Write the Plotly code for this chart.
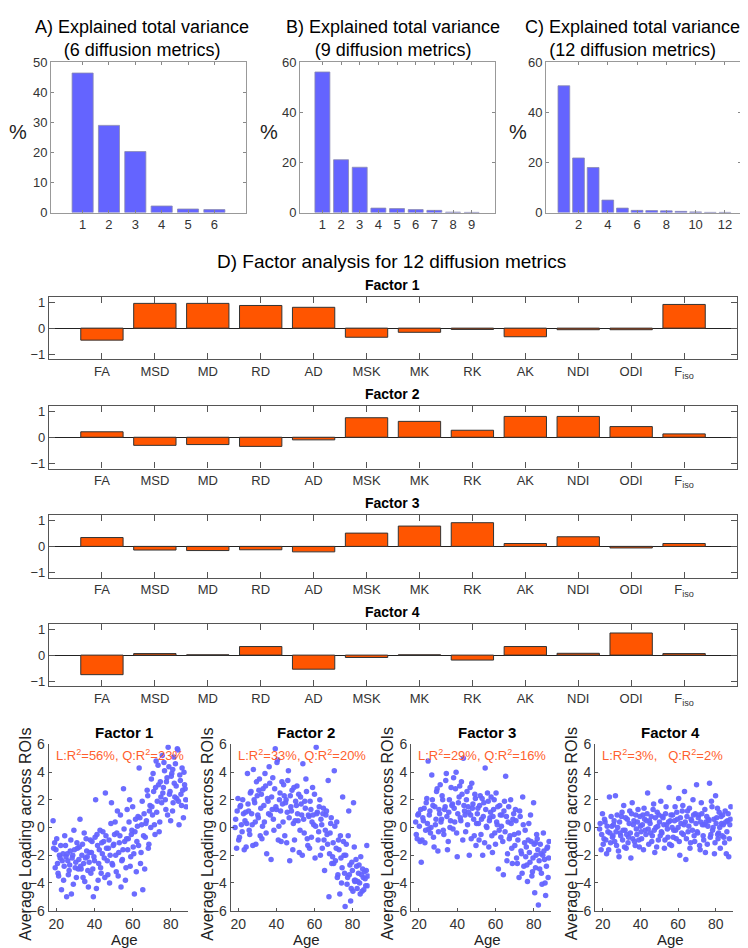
import plotly.graph_objects as go

# A-C: explained total variance (%)
var6 = [46.4, 29.0, 20.3, 2.2, 1.2, 1.0]
var9 = [56.1, 21.1, 18.1, 1.8, 1.6, 1.2, 0.9, 0.2, 0.1]
var12 = [50.6, 21.8, 18.0, 5.0, 1.8, 0.9, 0.8, 0.7, 0.5, 0.3, 0.1, 0.1]

# D: factor loadings for 12 diffusion metrics
metrics = ["FA", "MSD", "MD", "RD", "AD", "MSK", "MK", "RK", "AK", "NDI", "ODI", "F<sub>iso</sub>"]
factor1 = [-0.46, 0.95, 0.95, 0.87, 0.80, -0.35, -0.16, -0.05, -0.33, -0.06, -0.06, 0.91]
factor2 = [0.21, -0.31, -0.28, -0.35, -0.10, 0.75, 0.61, 0.27, 0.80, 0.80, 0.41, 0.13]
factor3 = [0.34, -0.14, -0.16, -0.13, -0.21, 0.51, 0.78, 0.91, 0.11, 0.37, -0.06, 0.11]
factor4 = [-0.75, 0.06, 0.01, 0.33, -0.54, -0.09, 0.01, -0.19, 0.33, 0.07, 0.85, 0.06]

# bottom row: average factor loading across ROIs vs age (read approximately)
ages = [
    18.3, 19.1, 19.8, 20.6, 21.2, 22.0, 22.7, 23.5, 24.1, 24.8,
    25.4, 26.0, 26.7, 27.3, 27.9, 28.6, 29.2, 29.9, 30.5, 31.1,
    31.8, 32.4, 33.0, 33.7, 34.3, 34.9, 35.6, 36.2, 36.8, 37.5,
    38.1, 38.7, 39.4, 40.0, 40.6, 41.3, 41.9, 42.5, 43.2, 43.8,
    44.4, 45.1, 45.7, 46.3, 47.0, 47.6, 48.2, 48.9, 49.5, 50.1,
    50.8, 51.4, 52.0, 52.7, 53.3, 53.9, 54.6, 55.2, 55.8, 56.5,
    57.1, 57.7, 58.4, 59.0, 59.6, 60.3, 60.9, 61.5, 62.2, 62.8,
    63.4, 64.1, 64.7, 65.3, 66.0, 66.6, 67.2, 67.9, 68.5, 69.1,
    69.8, 70.4, 71.0, 71.7, 72.3, 72.9, 73.6, 74.2, 74.8, 75.5,
    76.1, 76.7, 77.4, 78.0, 78.6, 79.3, 79.9, 80.5, 81.2, 81.8,
    82.4, 83.1, 83.7, 84.3, 85.0, 85.6, 86.2, 86.9, 87.5, 88.0,
    18.6, 19.4, 20.2, 20.9, 21.6, 22.3, 23.1, 23.8, 24.4, 25.1,
    25.7, 26.3, 27.0, 27.6, 28.3, 28.9, 29.5, 30.2, 30.8, 31.5,
    32.1, 32.7, 33.4, 34.0, 34.6, 35.3, 35.9, 36.5, 37.2, 37.8,
    38.4, 39.1, 39.7, 40.3, 41.0, 41.6, 42.2, 42.9, 43.5, 44.1,
    44.8, 45.4, 46.0, 46.7, 47.3, 47.9, 48.6, 49.2, 49.8, 50.5,
    51.1, 51.7, 52.4, 53.0, 53.6, 54.3, 54.9, 55.5, 56.2, 56.8,
    57.4, 58.1, 58.7, 59.3, 60.0, 60.6, 61.2, 61.9, 62.5, 63.1,
    63.8, 64.4, 65.0, 65.7, 66.3, 66.9, 67.6, 68.2, 68.8, 69.5,
    70.1, 70.7, 71.4, 72.0, 72.6, 73.3, 73.9, 74.5, 75.2, 75.8,
    76.4, 77.1, 77.7, 78.3, 79.0, 79.6, 80.2, 80.9, 81.5, 82.1,
    82.8, 83.4, 84.0, 84.7, 85.3, 85.9, 86.6, 87.2, 87.8, 81.0,
]

score1 = [
    0.5, -1.1, -1.6, -2.6, -3.5, -2.2, -4.5, -1.9, -2.8, -1.3,
    -5.0, -2.4, -3.1, -1.7, -4.8, -2.0, -0.2, -2.9, -3.6, -1.5,
    -2.3, 0.6, -3.0, -1.2, -2.6, -3.9, -0.8, -2.1, -4.3, -1.8,
    -3.3, -1.0, -5.0, -2.4, 2.0, -0.5, -3.8, -1.6, -2.9, -1.1,
    -0.3, -2.2, 2.5, -1.5, -3.4, -0.9, -2.0, 1.8, -2.7, -1.2,
    0.4, -3.2, 1.2, -1.8, -0.6, -4.3, -2.3, 2.8, -1.0, -2.9,
    1.3, -0.8, 2.0, -2.1, -0.2, -1.4, -4.8, 0.6, -1.0, 0.8,
    4.3, -2.6, 0.2, -4.5, 1.0, -0.7, 0.5, 2.3, -1.2, 1.6,
    3.5, 0.9, 2.6, -0.5, 4.8, 1.9, 3.1, 0.4, 2.2, 5.2,
    2.9, 4.1, 1.3, 3.6, 5.8, 2.4, 0.5, 3.9, 1.8, 3.2,
    4.6, 2.1, 5.6, 0.2, 3.4, 1.6, 2.7, 4.0, 2.8, 1.5,
    -1.5, -2.9, -0.8, -3.3, -2.0, -1.3, -2.4, -3.8, -0.6, -2.1,
    -1.9, -3.4, -2.7, -0.9, -2.2, -4.1, -1.6, -2.5, -1.1, -3.0,
    -1.4, -2.8, -2.0, -3.6, -0.4, -2.2, -1.7, -3.1, -2.5, -0.9,
    -1.8, -3.0, -2.1, -0.7, -4.4, -1.3, -2.6, -0.2, -3.3, -1.9,
    -1.0, -3.6, -0.6, -2.4, -1.5, -4.0, 0.3, -2.6, -1.3, -0.5,
    -2.0, -0.4, -3.5, -1.1, 0.9, -2.4, -1.6, -0.1, -3.8, -0.8,
    -1.6, 0.4, -2.8, -0.5, 1.5, -1.9, -0.3, -3.2, 0.1, -1.3,
    0.7, -1.8, 1.9, -0.6, -3.0, 0.3, 2.7, -1.5, 1.2, 0.0,
    1.5, 3.9, 0.2, 2.9, 1.1, 4.5, -0.3, 3.3, 1.8, 2.5,
    4.7, 2.0, 3.3, 0.9, 4.4, 2.6, 3.7, 1.2, 5.1, 2.2,
    3.0, 5.7, 1.9, 3.8, 2.4, 4.3, 0.7, 3.1, 2.0, 4.2,
]

score2 = [
    0.0, -1.5, 2.1, -0.7, 1.6, -0.3, 1.0, 0.5, -1.4, 3.9,
    1.2, -0.5, 2.6, 0.2, 4.2, 1.8, -1.2, 2.3, 0.7, 3.5,
    1.4, -0.8, 2.8, 0.4, 3.0, -1.9, 1.9, 4.4, 0.9, 2.2,
    3.6, -0.2, 5.7, 1.3, 4.9, 0.1, 2.5, -1.0, 1.7, 3.1,
    -0.6, 2.0, 1.1, 4.1, -2.4, 1.5, 2.7, 0.3, -0.9, 1.9,
    3.0, 0.5, -1.8, 2.2, 0.9, 4.6, -0.4, 1.4, 2.6, -1.3,
    0.8, 1.9, -0.7, 2.9, 0.2, -2.2, 5.8, 1.1, -0.3, 2.0,
    0.6, -1.5, 1.4, -3.1, 0.9, -0.5, 3.4, -1.9, 0.3, -2.6,
    -1.1, 4.1, -2.4, 0.4, -3.4, -1.6, -0.6, -4.0, 2.2, -2.0,
    -5.7, -1.2, -3.6, 1.2, -2.7, -4.4, -3.1, 1.8, -3.9, -2.3,
    -4.4, -3.3, -4.0, -2.1, -4.6, -3.6, -3.2, -4.2, -1.3, -3.5,
    0.6, 1.2, -0.9, 1.5, 0.2, 2.0, -1.6, 1.1, 0.3, 1.7,
    -0.2, 2.5, 1.0, -1.3, 2.0, 0.4, 3.3, 0.9, 2.7, -0.6,
    2.4, 0.1, 1.6, 3.9, -0.4, 2.1, 1.0, 3.2, -2.3, 1.3,
    0.6, 2.8, 1.5, 4.7, -0.9, 2.0, 1.2, 3.3, 0.4, 2.3,
    1.8, -1.1, 3.4, 0.7, 2.3, 1.2, -1.6, 2.9, 0.5, 1.6,
    1.0, 2.4, -0.2, 1.7, -2.0, 0.6, 1.9, 3.5, -0.8, 0.9,
    -1.5, 1.3, 0.4, 0.9, 2.4, 0.1, 1.0, -0.9, 1.5, -2.0,
    0.2, 1.0, -0.9, -0.2, 1.2, -1.2, -5.0, -0.4, 0.7, -2.1,
    -2.6, 0.1, -1.5, -3.6, -0.9, -4.8, -2.2, -2.9, -1.0, -3.3,
    -2.0, -4.1, -0.6, -3.4, -5.3, -2.5, -4.6, -1.4, -3.8, -2.8,
    -3.9, -2.7, -4.8, -3.4, -3.0, -4.5, -3.7, -3.1, -4.2, -3.8,
]

score3 = [
    0.4, -0.8, 1.0, -1.0, -2.5, 0.7, 1.4, -0.2, 2.1, 4.8,
    0.9, -0.4, 3.8, 1.6, -1.4, 0.2, 2.6, -1.7, 1.3, 3.1,
    0.6, 2.0, -0.5, 1.5, 3.9, -1.6, 1.1, 0.0, 2.9, 1.7,
    3.6, 0.4, 4.0, -2.1, 1.8, 3.0, 0.5, 2.4, 5.0, 1.2,
    -0.3, 2.6, 1.5, -2.0, 0.9, 3.2, 1.7, -0.6, 2.1, 0.3,
    1.4, -0.9, 2.3, 0.6, -2.0, 1.8, 4.3, 0.1, 2.5, -1.4,
    0.7, 2.2, -1.8, 1.3, -0.4, 2.5, 0.2, -3.0, 1.6, -0.7,
    0.9, -3.4, 1.9, 3.7, -2.4, 0.4, -0.8, 2.0, -1.5, 0.6,
    -0.5, 1.3, -2.2, -0.9, -3.6, 0.8, -1.9, 2.2, -2.8, -0.2,
    -1.4, -3.9, 0.3, -2.5, -1.0, -3.2, 1.8, -4.7, -2.0, -0.8,
    -5.6, -3.0, -1.9, -4.1, -0.4, -2.3, -4.9, -1.5, -3.6, -1.0,
    -0.5, 0.9, 0.1, 1.3, -0.9, 0.5, -1.1, 1.8, 0.3, -0.1,
    1.2, 0.0, 2.0, -0.7, 1.5, 0.6, 2.8, -0.3, 1.0, 0.4,
    2.3, -0.2, 1.3, 3.4, 0.8, -1.0, 2.0, 0.5, 1.6, -0.1,
    1.4, 2.8, -0.4, 1.0, 2.2, 0.7, 3.3, -0.9, 1.6, 0.9,
    2.0, 0.2, 1.1, 2.9, -0.8, 1.4, 0.6, 2.4, -1.3, 1.0,
    0.3, 1.6, -0.5, 2.1, 0.8, -1.1, 1.3, 0.0, 1.9, 0.5,
    1.1, -0.6, 0.8, 2.0, -1.2, 0.4, 1.5, -0.2, 0.9, 0.1,
    -1.0, 1.2, -0.3, 0.8, -1.9, 1.5, -0.6, 0.3, -2.6, 1.0,
    -1.3, 0.5, -2.6, -0.4, 1.2, -1.7, -3.3, 0.2, -1.1, -2.1,
    -2.7, -0.9, -1.8, 0.9, -3.5, -2.2, -1.2, -2.9, -0.5, -1.6,
    -2.4, -1.2, -3.3, -2.0, -1.7, -4.0, -2.8, -1.4, -2.2, -1.1,
]

score4 = [
    -0.1, -1.6, 1.0, -0.8, 0.4, -1.9, -0.3, 2.2, -1.1, 0.1,
    -0.6, 0.5, 2.3, -1.3, 0.0, -2.1, -0.4, 0.8, -0.9, 1.6,
    -0.2, -1.5, 0.6, -0.7, 1.2, -2.2, 1.8, 0.2, -1.0, 0.9,
    -0.5, 1.3, -1.4, 0.1, -0.8, 0.9, 1.4, -0.2, 0.5, 2.5,
    -1.2, 0.3, 0.8, -0.6, 1.7, -1.8, 0.0, 1.1, -0.9, 0.4,
    1.9, -0.4, 0.7, -1.5, 1.0, 0.2, -0.7, 2.9, 0.5, -1.3,
    0.9, -0.2, 1.5, -0.8, 0.6, 2.1, -2.0, 0.3, 1.2, -0.5,
    2.6, -2.3, 0.8, -0.3, 1.4, -1.1, 0.5, 2.0, -0.6, 1.0,
    3.1, -0.4, 0.9, -1.6, 1.8, 0.2, -0.9, 1.3, 0.4, -1.2,
    0.6, 3.2, -0.5, 1.5, 0.0, -1.9, 2.3, 0.7, -0.8, 1.1,
    -1.5, 0.3, 0.9, -0.7, 1.2, -1.9, 0.5, -2.1, 0.2, 1.5,
    0.3, -0.5, -1.2, 0.6, -0.9, 0.1, -1.6, -0.4, 0.8, -0.7,
    0.2, -1.0, -0.3, 0.9, -1.7, 0.4, -0.6, 1.1, -0.2, -1.4,
    0.7, -0.5, -1.1, 0.3, -0.4, 1.0, -0.8, 0.5, -1.3, -0.1,
    0.4, -0.9, 0.8, -0.3, 0.2, -1.6, 0.6, -0.5, 1.0, -0.1,
    0.5, -0.4, -1.0, 1.3, -0.2, 0.7, -1.4, 0.1, 0.9, -0.6,
    -0.3, 0.8, 0.2, -0.9, 1.5, -0.1, 0.4, -1.2, 0.9, 0.0,
    -0.7, 0.5, -0.2, 1.1, 0.0, -1.0, 0.7, -0.4, 1.6, 0.2,
    0.4, -0.8, 1.2, 0.1, -1.5, 0.6, -0.2, 0.9, -1.0, 0.3,
    -0.3, 0.7, -1.3, 0.4, 1.0, -0.6, 0.2, -1.8, 0.8, 0.1,
    0.5, -0.7, 1.9, -0.2, 0.6, -1.1, 0.3, 1.4, -0.4, 0.0,
    0.8, -0.6, 0.2, -1.1, 0.4, -0.3, 1.0, -0.8, 0.6, -0.5,
]

r2_text = [
    "L:R<sup>2</sup>=56%, Q:R<sup>2</sup>=23%",
    "L:R<sup>2</sup>=33%, Q:R<sup>2</sup>=20%",
    "L:R<sup>2</sup>=29%, Q:R<sup>2</sup>=16%",
    "L:R<sup>2</sup>=3%,&nbsp;&nbsp;&nbsp;Q:R<sup>2</sup>=2%",
]

W, H = 748, 948
FONT = "Liberation Sans, Arial, sans-serif"
NARROW = "Liberation Sans Narrow, Liberation Sans, Arial, sans-serif"
BLUE = "#6464ff"
ORANGE = "#ff5500"


def xd(a, b):
    return [a / W, b / W]


def yd(top, bottom):
    return [1 - bottom / H, 1 - top / H]


fig = go.Figure()
annotations = []


def note(text, x, y, size, color="black", bold=False, angle=0, xanchor="center", family=FONT):
    if bold:
        text = "<b>" + text + "</b>"
    annotations.append(dict(
        text=text, x=x / W, y=1 - y / H, xref="paper", yref="paper",
        showarrow=False, textangle=angle, xanchor=xanchor, yanchor="middle",
        font=dict(size=size, color=color, family=family)))


# ---- A, B, C : explained variance bars
var_sets = [var6, var9, var12]
var_x = [[43, 238], [292, 487], [538, 733]]
var_range = [[-0.2, 7.2], [-0.2, 10.25], [-0.22, 13.1]]
var_ymax = [50, 60, 60]
var_dtick = [10, 20, 20]
var_ticks = [[1, 2, 3, 4, 5, 6], list(range(1, 10)), [2, 4, 6, 8, 10, 12]]
var_titles = ["A) Explained total variance<br>(6 diffusion metrics)",
              "B) Explained total variance<br>(9 diffusion metrics)",
              "C) Explained total variance<br>(12 diffusion metrics)"]
title_cx = [134, 385, 624]
pct_x = [10, 261, 510]

for i, vals in enumerate(var_sets):
    n = i + 1
    fig.add_trace(go.Bar(
        x=list(range(1, len(vals) + 1)), y=vals, width=0.8,
        marker=dict(color=BLUE, line=dict(color="#8a8ab0", width=0.8)),
        xaxis="x%d" % n, yaxis="y%d" % n, showlegend=False))
    fig.layout["xaxis%d" % n] = dict(
        domain=xd(*var_x[i]), anchor="y%d" % n, range=var_range[i],
        tickvals=var_ticks[i], ticks="inside", ticklen=3, tickcolor="#888",
        showline=True, linecolor="#999", linewidth=1, mirror="ticks",
        showgrid=False, zeroline=False,
        tickfont=dict(size=13, color="#333", family=FONT))
    fig.layout["yaxis%d" % n] = dict(
        domain=yd(47, 200), anchor="x%d" % n, range=[0, var_ymax[i]],
        dtick=var_dtick[i], ticks="inside", ticklen=3, tickcolor="#888",
        showline=True, linecolor="#999", linewidth=1, mirror="ticks",
        showgrid=False, zeroline=False,
        tickfont=dict(size=13, color="#333", family=FONT))
    note(var_titles[i], title_cx[i], 23, 18)
    note("%", pct_x[i], 118, 20, color="#222")

# ---- D : factor loadings
note("D) Factor analysis for 12 diffusion metrics", 383, 250, 19, family=NARROW)
factors = [factor1, factor2, factor3, factor4]
fac_top = [285.7, 396.7, 507.7, 618.3]
for i, vals in enumerate(factors):
    n = i + 4
    fig.add_trace(go.Bar(
        x=list(range(1, 13)), y=vals, width=0.8,
        marker=dict(color=ORANGE, line=dict(color="#333", width=1)),
        xaxis="x%d" % n, yaxis="y%d" % n, showlegend=False))
    fig.layout["xaxis%d" % n] = dict(
        domain=xd(41, 729), anchor="y%d" % n, range=[0, 13],
        tickvals=list(range(1, 13)), ticktext=metrics,
        ticks="inside", ticklen=6, tickcolor="#555",
        showline=True, linecolor="#555", linewidth=1.2, mirror="ticks",
        showgrid=False, zeroline=False,
        tickfont=dict(size=13, color="#333", family=NARROW))
    fig.layout["yaxis%d" % n] = dict(
        domain=yd(fac_top[i], fac_top[i] + 63.6), anchor="x%d" % n,
        range=[-1.2, 1.2], tickvals=[-1, 0, 1],
        ticks="inside", ticklen=6, tickcolor="#555",
        showline=True, linecolor="#555", linewidth=1.2, mirror="ticks",
        showgrid=False, zeroline=True, zerolinecolor="#222", zerolinewidth=1,
        tickfont=dict(size=13, color="#333", family=NARROW))
    note("Factor %d" % (i + 1), 385, fac_top[i] - 12, 14, bold=True, family=NARROW)

# ---- bottom: loadings vs age
scores = [score1, score2, score3, score4]
sc_x = [[40.7, 180], [222.7, 361.7], [403.3, 543], [587.3, 724.7]]
for i, vals in enumerate(scores):
    n = i + 8
    fig.add_trace(go.Scatter(
        x=ages, y=vals, mode="markers",
        marker=dict(color=BLUE, size=5.5, opacity=0.95, line=dict(width=0)),
        xaxis="x%d" % n, yaxis="y%d" % n, showlegend=False))
    fig.layout["xaxis%d" % n] = dict(
        domain=xd(*sc_x[i]), anchor="y%d" % n, range=[16, 89],
        tickvals=[20, 40, 60, 80], ticks="inside", ticklen=3, tickcolor="#555",
        showline=True, linecolor="#555", linewidth=1.2, mirror=False,
        showgrid=False, zeroline=False,
        tickfont=dict(size=14, color="#333", family=FONT))
    fig.layout["yaxis%d" % n] = dict(
        domain=yd(741, 910), anchor="x%d" % n, range=[-6, 6],
        dtick=2, ticks="inside", ticklen=3, tickcolor="#555",
        showline=True, linecolor="#555", linewidth=1.2, mirror=False,
        showgrid=False, zeroline=False,
        tickfont=dict(size=14, color="#333", family=FONT))
    x0, x1 = sc_x[i]
    note("Factor %d" % (i + 1), (x0 + x1) / 2 + 6, 729, 15, bold=True)
    note("Average Loading across ROIs", x0 - 23, 832, 16, color="#222", angle=-90)
    note("Age", (x0 + x1) / 2 + 6, 939, 15, color="#222")
    note(r2_text[i], x0 + 5, 752, 13, color="#ff5f2e", xanchor="left")

fig.update_layout(
    width=W, height=H, margin=dict(l=0, r=0, t=0, b=0),
    paper_bgcolor="white", plot_bgcolor="white",
    bargap=0.2, annotations=annotations,
    font=dict(family=FONT))

fig.write_html("out.html")
